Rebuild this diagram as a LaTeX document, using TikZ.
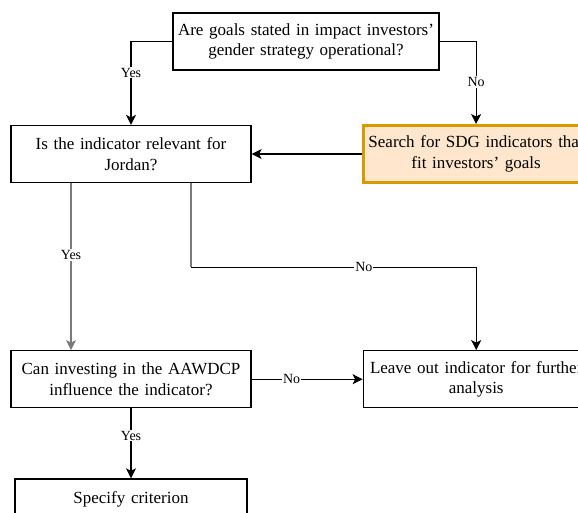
\documentclass[tikz,border=0pt]{standalone}
\usepackage{fontspec}
\setmainfont{Liberation Serif}
\usetikzlibrary{positioning}
\usetikzlibrary{arrows.meta}
\definecolor{hilitefill}{HTML}{FFE6CC}
\definecolor{hiliteline}{HTML}{D79B00}
\definecolor{edgegray}{HTML}{7A7A7A}
\tikzstyle{block} = [rectangle, draw, line width=1.2pt, fill=white,
                     minimum width=240pt, minimum height=57pt, inner sep=0pt,
                     text width=232pt, align=center,
                     font=\fontsize{17}{20.5}\selectfont]
\tikzstyle{query}=[block]
\tikzstyle{hilite}=[block, minimum width=226pt, text width=226pt,
                    fill=hilitefill, draw=hiliteline, line width=3pt]
\tikzstyle{link}=[line width=1.2pt, -{Stealth[length=10pt,width=10pt,inset=2.5pt]}]
\tikzstyle{lbl}=[fill=white, inner sep=1pt, font=\fontsize{14}{16}\selectfont]

\begin{document}
\begin{tikzpicture}
  \useasboundingbox (0,0) rectangle (578pt,-512pt);
  \clip (0,0) rectangle (578pt,-512pt);

  \node [query, minimum width=266pt, text width=258pt] (goals) at (306pt,-41.5pt)
    {Are goals stated in impact investors'\\ gender strategy operational?};
  \node [query] (jordan) at (131pt,-154pt)
    {Is the indicator relevant for\\ Jordan?};
  \node [hilite, right=110pt of jordan] (search)
    {Search for SDG indicators that\\ fit investors' goals};
  \node [query, below=167pt of jordan] (invest)
    {Can investing in the AAWDCP\\ influence the indicator?};
  \node [block, minimum width=226pt, text width=226pt, right=111pt of invest] (leave)
    {Leave out indicator for further\\ analysis};
  \node [block, minimum width=225pt, minimum height=41pt, below=70pt of invest] (crit)
    {Specify criterion};

  % connectors
  \draw [link] (goals.west) -| node [lbl, pos=0.686] {Yes} (jordan.north);
  \draw [link] (goals.east) -| node [lbl, pos=0.745] {No} (search.north);
  \draw [link] (search.west) -- (jordan.east);
  \draw [link, edgegray] ([xshift=-60pt]jordan.south)
    -- node [lbl, text=black, pos=0.43] {Yes} ([xshift=-60pt]invest.north);
  \draw [line width=1.2pt, edgegray] ([xshift=60pt]jordan.south) -- ++(0,-84pt) coordinate (turn);
  \draw [link] (turn) -| node [lbl, pos=0.303] {No} (leave.north);
  \draw [link] (invest.east) -- node [lbl, pos=0.36] {No} (leave.west);
  \draw [link] (invest.south) -- node [lbl, pos=0.39] {Yes} (crit.north);
\end{tikzpicture}
\end{document}
